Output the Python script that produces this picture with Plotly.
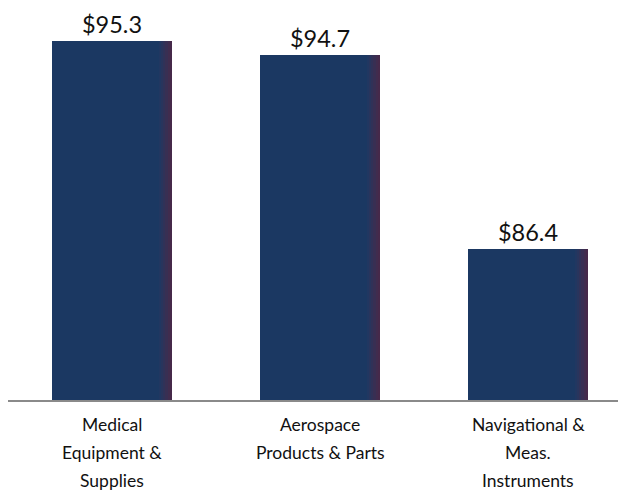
import plotly.graph_objects as go

categories = ["Medical<br>Equipment &<br>Supplies", "Aerospace<br>Products & Parts", "Navigational &<br>Meas.<br>Instruments"]
values = [95.3, 94.7, 86.4]
labels = ["$95.3", "$94.7", "$86.4"]

W = 626
H = 491
bar_w = 0.577
xs = [0, 1, 2]

fig = go.Figure()
fig.add_trace(go.Bar(
    x=xs, y=values, width=bar_w,
    marker=dict(color="#1b3862", line=dict(width=0)),
    text=labels, textposition="outside",
    textfont=dict(family="Lato", size=23.5, color="#111111"),
    cliponaxis=False, hoverinfo="skip",
))
# right-edge shading strips
strip_cols = ["#213761", "#28355d", "#303258", "#382f53", "#402c4e", "#46294a"]
sw = 0.0105
for i, c in enumerate(strip_cols):
    off = bar_w / 2 - sw * (len(strip_cols) - i)
    fig.add_trace(go.Bar(
        x=xs, y=values, width=sw, offset=off,
        marker=dict(color=c, line=dict(width=0)),
        hoverinfo="skip", showlegend=False,
    ))

# category labels, one annotation per line for Office-like line spacing
for x, cat in zip(xs, categories):
    for j, line in enumerate(cat.split("<br>")):
        fig.add_annotation(
            x=x, xref="x", y=0, yref="paper", yanchor="middle",
            yshift=-(24 + 28 * j), text=line, showarrow=False,
            font=dict(family="Lato", size=17.5, color="#111111"),
        )

fig.update_layout(
    width=W, height=H,
    barmode="overlay",
    showlegend=False,
    paper_bgcolor="white", plot_bgcolor="white",
    margin=dict(l=0, r=8, t=0, b=99),
    xaxis=dict(
        range=[-0.5, 2.471], tickvals=xs, showticklabels=False,
        showline=True, linecolor="#8a8a8a", linewidth=2,
        showgrid=False, zeroline=False, ticks="",
    ),
    yaxis=dict(range=[79.9, 96.72], visible=False),
    bargap=0,
)
fig.write_html("out.html")
